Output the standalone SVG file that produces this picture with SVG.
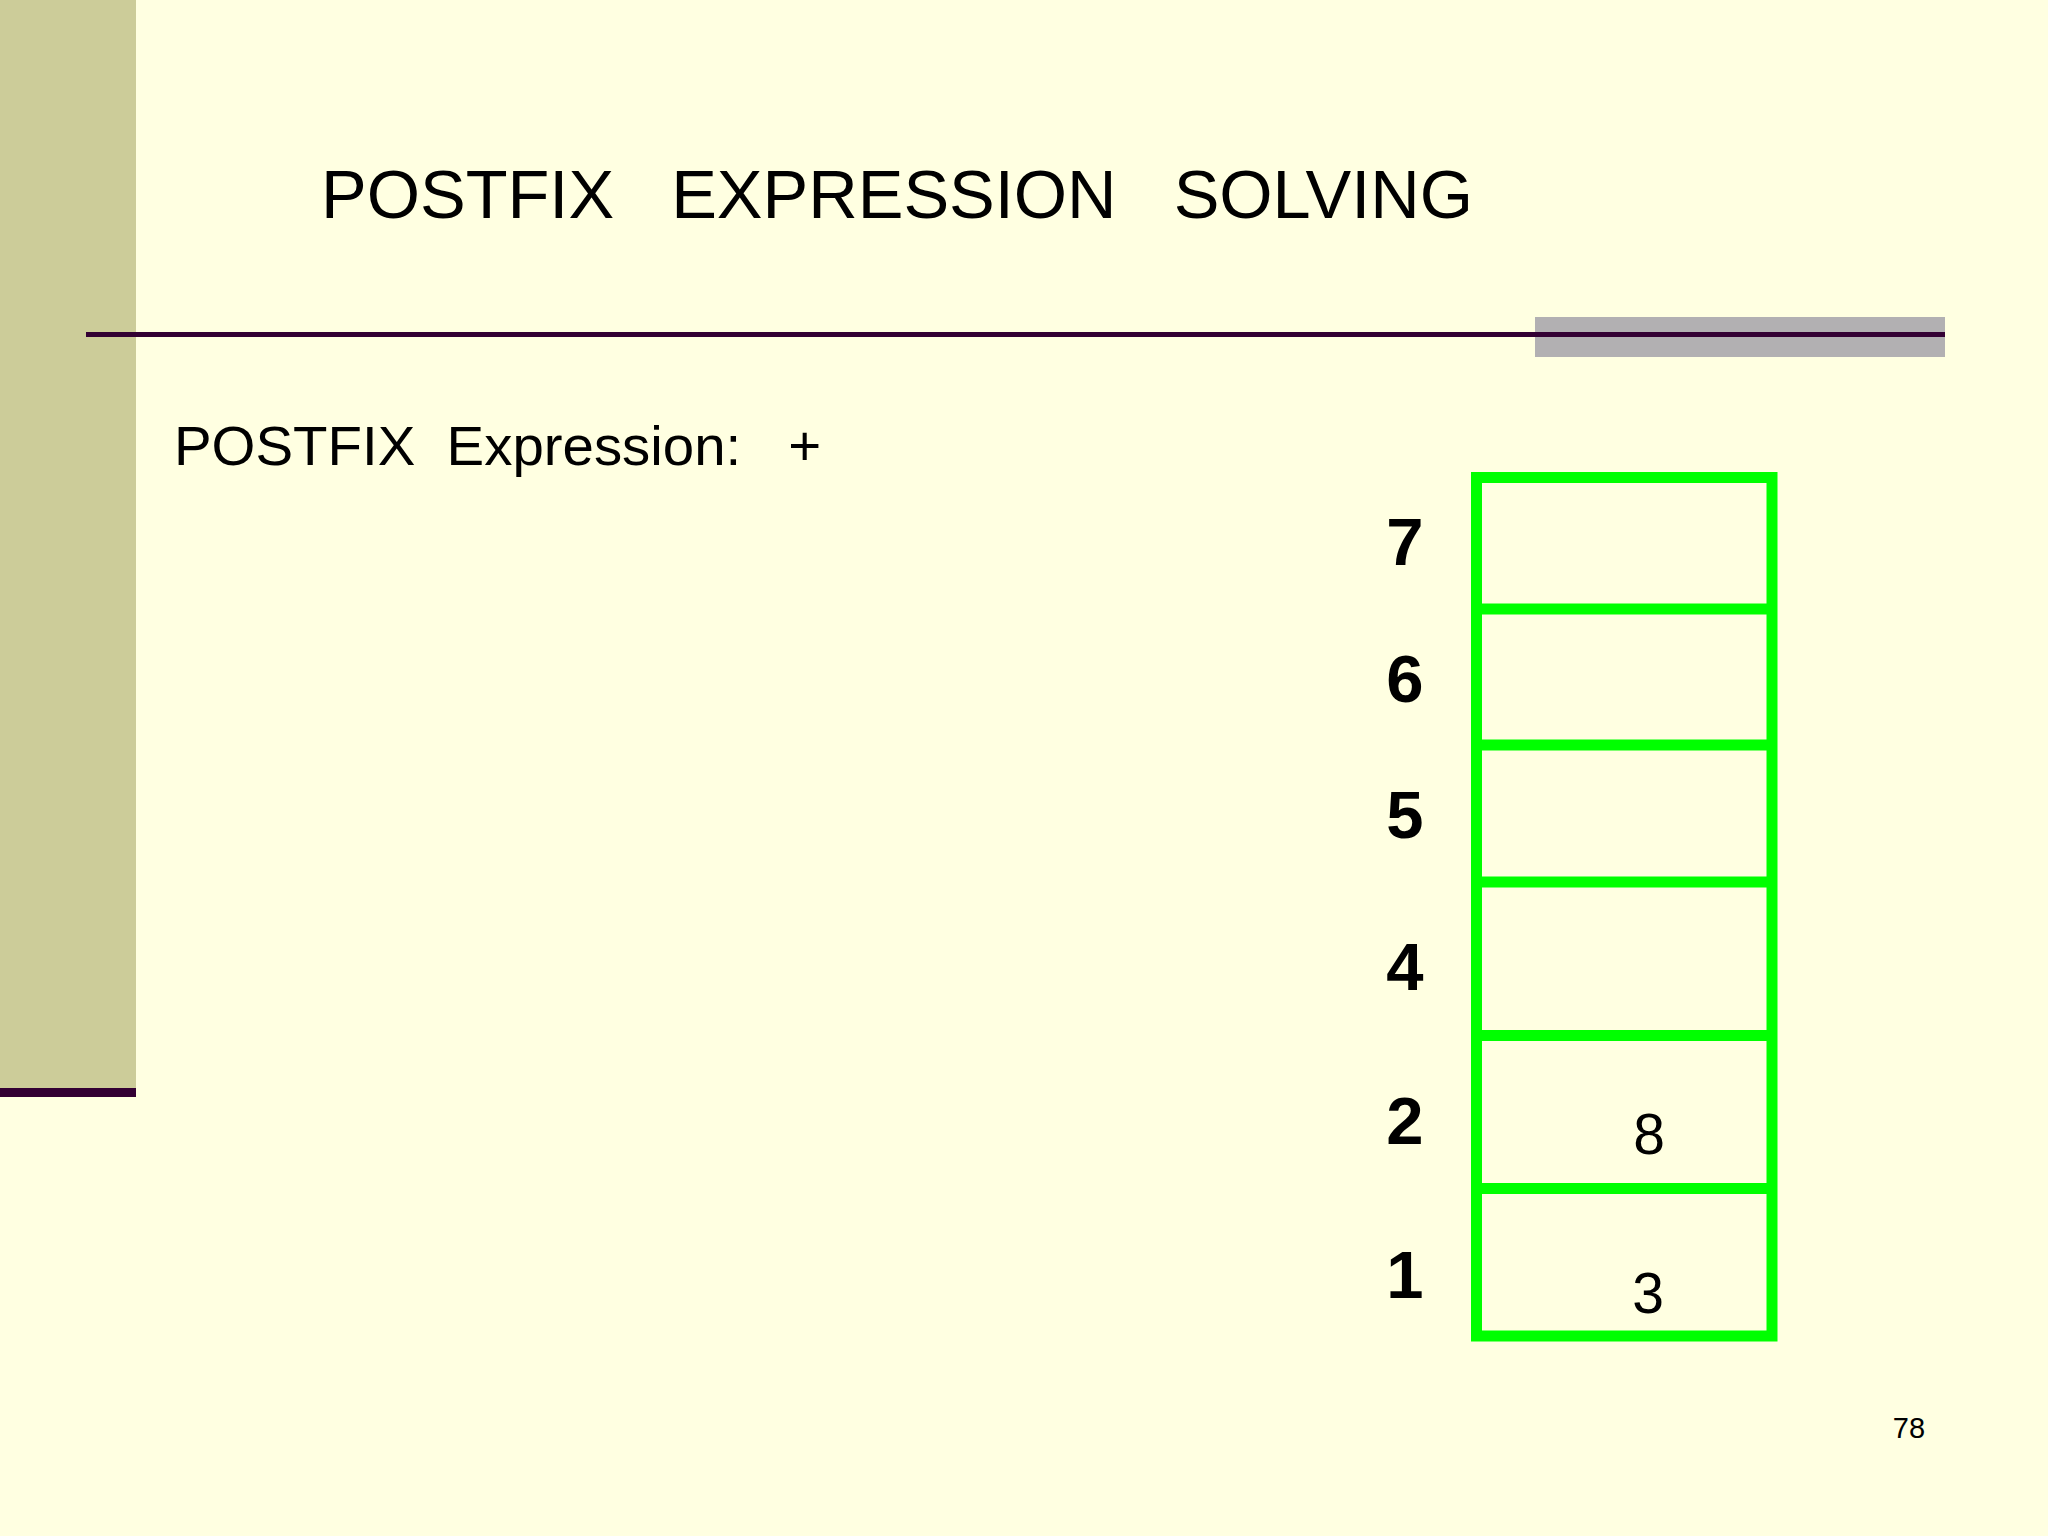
<svg xmlns="http://www.w3.org/2000/svg" width="2048" height="1536" viewBox="0 0 2048 1536">
<style>
.t{font-family:"Liberation Sans",Arial,sans-serif;fill:#000}
.idx{font-family:"Liberation Sans",Arial,sans-serif;font-weight:bold;font-size:67px;text-anchor:middle;fill:#000}
.val{font-family:"Liberation Sans",Arial,sans-serif;font-size:57px;text-anchor:middle;fill:#000}
.cell{fill:none;stroke:#00FF00;stroke-width:11}
</style>
<rect x="0" y="0" width="2048" height="1536" fill="#FFFFE1"/>
<g id="sidebar">
<rect x="0" y="0" width="136" height="1088" fill="#CCCC99"/>
<rect x="0" y="1088" width="136" height="9" fill="#330033"/>
</g>
<g id="header">
<rect x="1535" y="317" width="410" height="40" fill="#B2B0B2"/>
<rect x="86" y="332" width="1859" height="5" fill="#330033"/>
<text class="t" x="321" y="218" font-size="68.5" xml:space="preserve">POSTFIX   EXPRESSION   SOLVING</text>
</g>
<g id="expression">
<text class="t" x="174" y="465" font-size="56.4" xml:space="preserve">POSTFIX  Expression:   +</text>
</g>
<g id="stack">
<rect class="cell" x="1476.5" y="477.5" width="295.5" height="858.5"/>
<line class="cell" x1="1476.5" y1="609" x2="1772" y2="609"/>
<line class="cell" x1="1476.5" y1="745" x2="1772" y2="745"/>
<line class="cell" x1="1476.5" y1="882" x2="1772" y2="882"/>
<line class="cell" x1="1476.5" y1="1035.5" x2="1772" y2="1035.5"/>
<line class="cell" x1="1476.5" y1="1188.5" x2="1772" y2="1188.5"/>
</g>
<g id="indices">
<text class="idx" x="1405" y="565">7</text>
<text class="idx" x="1405" y="702">6</text>
<text class="idx" x="1405" y="838">5</text>
<text class="idx" x="1405" y="990">4</text>
<text class="idx" x="1405" y="1144">2</text>
<text class="idx" x="1405" y="1298">1</text>
</g>
<g id="values">
<text class="val" x="1649" y="1154">8</text>
<text class="val" x="1648" y="1313">3</text>
</g>
<text class="t" x="1909" y="1438" font-size="29" text-anchor="middle">78</text>
</svg>
